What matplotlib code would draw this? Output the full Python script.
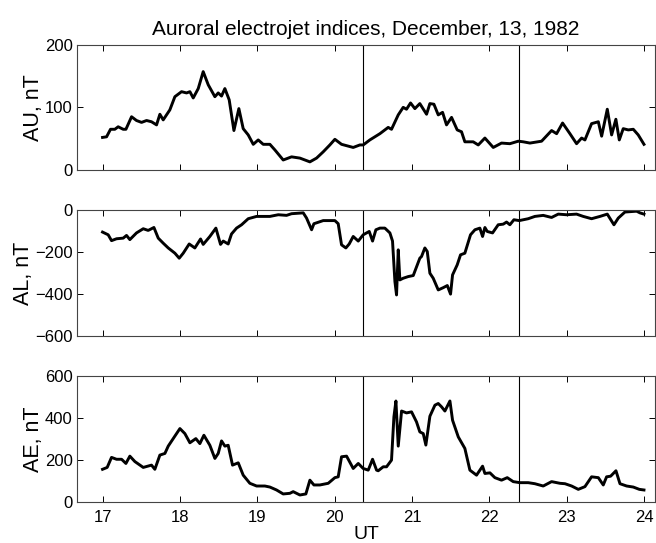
import matplotlib
matplotlib.use("Agg")
import matplotlib.pyplot as plt

# Auroral electrojet indices (hours UT, nT)
au_t = [17.000, 17.052, 17.103, 17.159, 17.202, 17.267, 17.302, 17.375, 17.439, 17.504,
        17.569, 17.633, 17.698, 17.741, 17.784, 17.870, 17.935, 18.021, 18.086, 18.129,
        18.172, 18.237, 18.301, 18.366, 18.452, 18.495, 18.538, 18.581, 18.637, 18.698,
        18.762, 18.818, 18.883, 18.948, 19.012, 19.077, 19.163, 19.228, 19.335, 19.443,
        19.551, 19.680, 19.766, 19.852, 19.938, 20.003, 20.089, 20.240, 20.326, 20.369,
        20.455, 20.585, 20.692, 20.735, 20.822, 20.886, 20.929, 20.981, 21.037, 21.101,
        21.188, 21.231, 21.283, 21.339, 21.395, 21.446, 21.511, 21.584, 21.640, 21.683,
        21.791, 21.856, 21.942, 22.050, 22.157, 22.265, 22.373, 22.438, 22.524, 22.675,
        22.804, 22.869, 22.946, 23.041, 23.127, 23.192, 23.235, 23.321, 23.408, 23.451,
        23.524, 23.580, 23.635, 23.679, 23.730, 23.795, 23.860, 23.924, 23.998]
au_v = [52, 53, 65, 65, 69, 65, 65, 85, 79, 76,
        79, 77, 72, 89, 80, 96, 117, 125, 123, 125,
        115, 130, 157, 136, 117, 123, 118, 130, 112, 63,
        98, 66, 56, 41, 48, 41, 41, 32, 16, 21,
        19, 13, 19, 29, 40, 49, 41, 36, 40, 40,
        48, 58, 68, 65, 88, 100, 97, 107, 98, 106,
        89, 106, 105, 88, 92, 72, 84, 64, 61, 45,
        45, 40, 51, 36, 43, 42, 46, 45, 43, 46,
        63, 58, 75, 58, 42, 51, 48, 74, 77, 54,
        97, 56, 81, 48, 66, 64, 65, 56, 41]

al_t = [17.000, 17.073, 17.116, 17.181, 17.267, 17.310, 17.353, 17.439, 17.526, 17.590,
        17.664, 17.720, 17.784, 17.849, 17.935, 17.991, 18.043, 18.120, 18.193, 18.267,
        18.301, 18.387, 18.465, 18.525, 18.560, 18.624, 18.667, 18.732, 18.797, 18.883,
        18.991, 19.163, 19.271, 19.378, 19.443, 19.594, 19.637, 19.702, 19.732, 19.852,
        20.003, 20.046, 20.089, 20.145, 20.188, 20.240, 20.305, 20.369, 20.447, 20.490,
        20.533, 20.585, 20.649, 20.714, 20.748, 20.779, 20.800, 20.822, 20.843, 20.886,
        20.951, 21.016, 21.101, 21.123, 21.166, 21.197, 21.231, 21.274, 21.339, 21.404,
        21.456, 21.498, 21.524, 21.584, 21.627, 21.683, 21.756, 21.813, 21.877, 21.912,
        21.942, 21.972, 22.041, 22.114, 22.179, 22.222, 22.265, 22.317, 22.386, 22.502,
        22.588, 22.696, 22.804, 22.890, 22.998, 23.127, 23.213, 23.321, 23.429, 23.524,
        23.610, 23.666, 23.752, 23.903, 23.946, 23.998]
al_v = [-104, -117, -145, -136, -133, -120, -140, -108, -88, -96,
        -82, -133, -157, -180, -205, -229, -205, -161, -180, -137,
        -163, -125, -85, -163, -147, -161, -113, -85, -69, -40,
        -29, -29, -21, -24, -16, -12, -37, -93, -64, -49,
        -49, -64, -165, -180, -161, -125, -147, -117, -101, -147,
        -93, -85, -85, -108, -147, -341, -405, -189, -333, -325,
        -317, -312, -229, -221, -180, -197, -301, -325, -381, -370,
        -360, -401, -309, -261, -213, -205, -117, -93, -85, -125,
        -82, -101, -108, -69, -66, -56, -69, -45, -49, -40,
        -29, -24, -34, -18, -21, -18, -29, -40, -29, -18,
        -69, -37, -8, -4, -12, -18]

ae_t = [17.000, 17.060, 17.116, 17.181, 17.246, 17.302, 17.353, 17.418, 17.526, 17.633,
        17.676, 17.741, 17.806, 17.849, 17.935, 18.000, 18.064, 18.129, 18.206, 18.258,
        18.310, 18.387, 18.452, 18.495, 18.538, 18.581, 18.624, 18.680, 18.754, 18.818,
        18.904, 18.991, 19.098, 19.163, 19.249, 19.335, 19.421, 19.464, 19.551, 19.628,
        19.680, 19.732, 19.809, 19.917, 20.003, 20.046, 20.089, 20.154, 20.240, 20.305,
        20.369, 20.434, 20.490, 20.542, 20.563, 20.628, 20.671, 20.735, 20.766, 20.792,
        20.822, 20.865, 20.929, 20.994, 21.058, 21.101, 21.145, 21.179, 21.231, 21.296,
        21.339, 21.382, 21.425, 21.490, 21.524, 21.598, 21.683, 21.748, 21.834, 21.912,
        21.942, 22.007, 22.071, 22.157, 22.231, 22.308, 22.394, 22.502, 22.588, 22.696,
        22.804, 22.912, 22.977, 23.063, 23.149, 23.235, 23.321, 23.408, 23.472, 23.515,
        23.567, 23.636, 23.688, 23.774, 23.860, 23.938, 23.998]
ae_v = [155, 164, 212, 203, 203, 183, 218, 192, 164, 175,
        155, 223, 231, 266, 314, 350, 326, 282, 302, 278,
        318, 270, 207, 231, 291, 266, 270, 175, 186, 127,
        88, 75, 75, 70, 56, 37, 40, 48, 32, 37,
        103, 80, 80, 88, 115, 119, 215, 218, 159, 183,
        159, 151, 203, 151, 148, 167, 167, 199, 406, 482,
        266, 434, 425, 430, 382, 334, 326, 271, 409, 462,
        470, 454, 434, 482, 390, 310, 255, 151, 127, 170,
        135, 138, 115, 103, 115, 96, 91, 91, 86, 75,
        96, 88, 86, 75, 59, 72, 119, 115, 80, 119,
        122, 148, 86, 75, 70, 59, 56]

markers_t = [20.367, 22.383]
xticks = [17, 18, 19, 20, 21, 22, 23, 24]

plt.rcParams['font.family'] = ['Liberation Sans', 'DejaVu Sans']

fig = plt.figure(figsize=(6.56, 5.43), dpi=100)
left, width = 0.1174, 0.881
panels = [
    (0.6869, au_t, au_v, (0, 200), [0, 100, 200], "AU, nT"),
    (0.3818, al_t, al_v, (-600, 0), [-600, -400, -200, 0], "AL, nT"),
    (0.0761, ae_t, ae_v, (0, 600), [0, 200, 400, 600], "AE, nT"),
]

axes = []
for bottom, t, v, ylim, yt, lab in panels:
    ax = fig.add_axes([left, bottom, width, 0.2308])
    ax.plot(t, v, color="black", linewidth=2.1)
    for m in markers_t:
        ax.axvline(m, color="black", linewidth=0.8)
    ax.set_xlim(16.67, 24.14)
    ax.set_ylim(*ylim)
    ax.set_yticks(yt)
    ax.set_xticks(xticks)
    ax.set_ylabel(lab, fontsize=15.5, labelpad=1)
    ax.tick_params(direction="in", length=4, width=0.7, top=True, right=True,
                   labelsize=12, colors="black")
    ax.tick_params(axis="x", pad=6)
    ax.tick_params(axis="y", pad=3)
    for s in ax.spines.values():
        s.set_color("#444444")
        s.set_linewidth(0.8)
    axes.append(ax)

axes[0].set_xticklabels([])
axes[1].set_xticklabels([])
axes[0].set_title("Auroral electrojet indices, December, 13, 1982", fontsize=15, pad=7)
axes[2].set_xlabel("UT", fontsize=14, labelpad=1)

fig.savefig("out.png", dpi=100)
